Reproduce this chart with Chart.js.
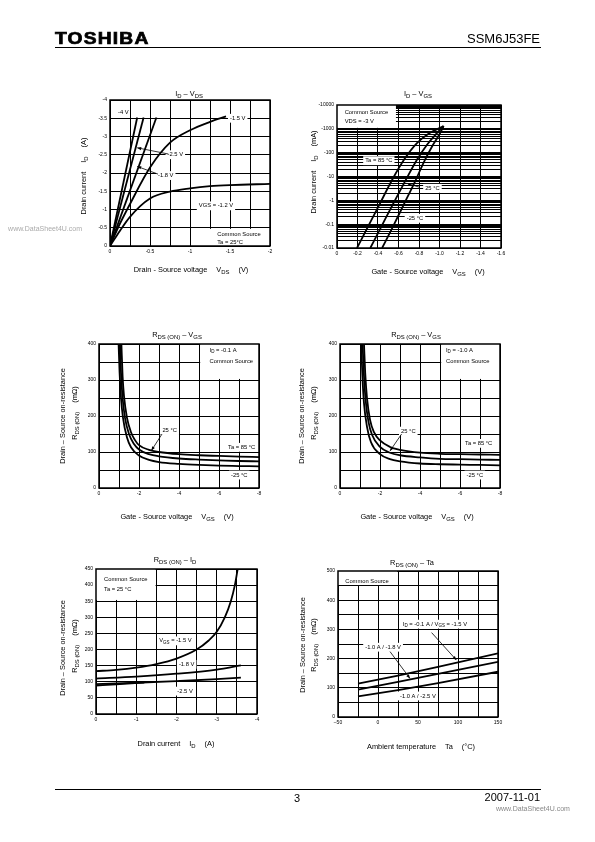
<!DOCTYPE html>
<html>
<head>
<meta charset="utf-8">
<script src="https://cdn.jsdelivr.net/npm/chart.js@4.4.0/dist/chart.umd.min.js"></script>
<style>
  body { margin: 0; background: #fff; }
  #page { position: relative; width: 595px; height: 842px; overflow: hidden; color: #000;
          font-family: Arial, "Liberation Sans", sans-serif; filter: grayscale(1); }
  .t { position: absolute; white-space: nowrap; line-height: 1; transform: translate(-50%, -50%); font-size: 7.4px; }
  .r { transform: translate(-50%, -50%) rotate(-90deg); }
  .s { font-size: 80%; position: relative; top: 0.3em; }
  .g { display: inline-block; width: 9px; }
  canvas { position: absolute; }
</style>
</head>
<body>
<div id="page">
  <!-- header / footer -->
  <div style="position:absolute;left:55px;top:31px;font:bold 16px 'Liberation Sans',Arial;letter-spacing:1px;-webkit-text-stroke:0.7px #000;transform:scaleX(1.2);transform-origin:left top;line-height:1">TOSHIBA</div>
  <div style="position:absolute;right:55px;top:32px;font-size:13px;line-height:1">SSM6J53FE</div>
  <div style="position:absolute;left:55px;top:47px;width:486px;height:1px;background:#000"></div>
  <div style="position:absolute;left:55px;top:789px;width:486px;height:1px;background:#000"></div>
  <div class="t" style="left:297px;top:798px;font-size:11px">3</div>
  <div style="position:absolute;right:55px;top:792px;font-size:11px;line-height:1">2007-11-01</div>
  <div style="position:absolute;left:496px;top:805px;font-size:7px;color:#888;line-height:1">www.DataSheet4U.com</div>
  <div style="position:absolute;right:513px;top:225px;font-size:7px;color:#aaa;line-height:1">www.DataSheet4U.com</div>

  <!-- chart 1 -->
  <div class="t" style="left:189px;top:94px">I<span class="s">D</span> – V<span class="s">DS</span></div>
  <div class="t" style="left:191px;top:270px">Drain - Source voltage<i class="g"></i>V<span class="s">DS</span><i class="g"></i>(V)</div>
  <div class="t r" style="left:84px;top:176px">Drain current<i class="g"></i>I<span class="s">D</span><i class="g"></i>(A)</div>

  <!-- chart 2 -->
  <div class="t" style="left:418px;top:94px">I<span class="s">D</span> – V<span class="s">GS</span></div>
  <div class="t" style="left:428px;top:272px">Gate - Source voltage<i class="g"></i>V<span class="s">GS</span><i class="g"></i>(V)</div>
  <div class="t r" style="left:314px;top:172px">Drain current<i class="g"></i>I<span class="s">D</span><i class="g"></i>(mA)</div>

  <!-- chart 3 -->
  <div class="t" style="left:177px;top:335px">R<span class="s">DS (ON)</span> – V<span class="s">GS</span></div>
  <div class="t" style="left:177px;top:517px">Gate - Source voltage<i class="g"></i>V<span class="s">GS</span><i class="g"></i>(V)</div>
  <div class="t r" style="left:63px;top:416px">Drain – Source on-resistance</div>
  <div class="t r" style="left:75px;top:413px">R<span class="s">DS (ON)</span><i class="g"></i>(mΩ)</div>

  <!-- chart 4 -->
  <div class="t" style="left:416px;top:335px">R<span class="s">DS (ON)</span> – V<span class="s">GS</span></div>
  <div class="t" style="left:417px;top:517px">Gate - Source voltage<i class="g"></i>V<span class="s">GS</span><i class="g"></i>(V)</div>
  <div class="t r" style="left:302px;top:416px">Drain – Source on-resistance</div>
  <div class="t r" style="left:314px;top:413px">R<span class="s">DS (ON)</span><i class="g"></i>(mΩ)</div>

  <!-- chart 5 -->
  <div class="t" style="left:175px;top:560px">R<span class="s">DS (ON)</span> – I<span class="s">D</span></div>
  <div class="t" style="left:176px;top:744px">Drain current<i class="g"></i>I<span class="s">D</span><i class="g"></i>(A)</div>
  <div class="t r" style="left:63px;top:648px">Drain – Source on-resistance</div>
  <div class="t r" style="left:75px;top:646px">R<span class="s">DS (ON)</span><i class="g"></i>(mΩ)</div>

  <!-- chart 6 -->
  <div class="t" style="left:412px;top:563px">R<span class="s">DS (ON)</span> – Ta</div>
  <div class="t" style="left:421px;top:747px">Ambient temperature<i class="g"></i>Ta<i class="g"></i>(°C)</div>
  <div class="t r" style="left:303px;top:645px">Drain – Source on-resistance</div>
  <div class="t r" style="left:314px;top:645px">R<span class="s">DS (ON)</span><i class="g"></i>(mΩ)</div>
</div>

<script>
// ---- I_D - V_DS, Ta = 25 °C (V, A) ----
const vds_4v = [0, -0.34];
const id_4v = [0, -3.52];
const vds_25v = [0, -0.42];
const id_25v = [0, -3.52];
const vds_18v = [0, -0.58];
const id_18v = [0, -3.52];
const vds_15v = [0, -0.1, -0.25, -0.5, -0.75, -1.0, -1.25, -1.45];
const id_15v = [0, -0.5, -1.15, -2.15, -2.83, -3.17, -3.4, -3.55];
const vds_12v = [0, -0.125, -0.25, -0.5, -0.75, -1.0, -1.25, -1.5, -2.0];
const id_12v = [0, -0.42, -0.8, -1.3, -1.49, -1.58, -1.64, -1.67, -1.7];

// ---- I_D - V_GS, VDS = -3 V (V, mA) ----
const vgs_85 = [-0.195, -0.3, -0.42, -0.54, -0.66, -0.78, -0.9, -1.04];
const idg_85 = [-0.01, -0.075, -0.75, -7.5, -55, -250, -650, -1300];
const vgs_25 = [-0.325, -0.43, -0.55, -0.67, -0.78, -0.88, -0.96, -1.04];
const idg_25 = [-0.01, -0.075, -0.75, -7, -50, -220, -560, -1300];
const vgs_m25 = [-0.44, -0.54, -0.65, -0.76, -0.85, -0.93, -0.99, -1.04];
const idg_m25 = [-0.01, -0.07, -0.65, -6, -42, -190, -500, -1300];

// ---- R_DS(ON) - V_GS, ID = -0.1 A (V, mOhm) ----
const a_vgs_85 = [-1.12, -1.18, -1.25, -1.4, -1.6, -1.8, -2, -2.5, -3, -4, -5, -6, -7, -8];
const a_rds_85 = [400, 310, 255, 195, 155, 133, 119, 106, 100, 94, 91, 89, 87, 86];
const a_vgs_25 = [-1.05, -1.1, -1.18, -1.3, -1.5, -1.75, -2, -2.5, -3, -4, -5, -6, -7, -8];
const a_rds_25 = [400, 320, 250, 195, 150, 122, 107, 94, 88, 82, 79, 77, 75, 74];
const a_vgs_m25 = [-0.98, -1.03, -1.1, -1.2, -1.4, -1.6, -2, -2.5, -3, -4, -5, -6, -7, -8];
const a_rds_m25 = [400, 320, 250, 195, 140, 113, 90, 78, 72, 67, 64, 62, 61, 60];

// ---- R_DS(ON) - V_GS, ID = -1.0 A (V, mOhm) ----
const b_vgs_85 = [-1.2, -1.26, -1.35, -1.5, -1.7, -2, -2.5, -3, -4, -5, -6, -7, -8];
const b_rds_85 = [400, 320, 250, 190, 155, 132, 114, 106, 98, 95, 94, 93, 92];
const b_vgs_25 = [-1.13, -1.19, -1.28, -1.42, -1.6, -2, -2.5, -3, -4, -5, -6, -7, -8];
const b_rds_25 = [400, 320, 245, 185, 148, 114, 98, 91, 85, 81, 80, 79, 78];
const b_vgs_m25 = [-1.06, -1.12, -1.2, -1.35, -1.55, -2, -2.5, -3, -4, -5, -6, -7, -8];
const b_rds_m25 = [400, 310, 235, 170, 127, 94, 80, 74, 68, 66, 65, 64, 63];

// ---- R_DS(ON) - I_D, Ta = 25 °C (A, mOhm) ----
const c_id_15v = [0, -0.5, -1, -1.5, -2, -2.5, -2.8, -3, -3.2, -3.35, -3.45, -3.52];
const c_rds_15v = [133, 137, 144, 155, 172, 200, 228, 255, 300, 350, 400, 450];
const c_id_18v = [0, -1, -2, -3, -3.6];
const c_rds_18v = [110, 116, 125, 138, 151];
const c_id_25v = [0, -1, -2, -3, -3.6];
const c_rds_25v = [93, 97, 102, 108, 113];
const c_id_low = [0, -0.5, -1.2];
const c_rds_low = [88, 92, 97.5];

// ---- R_DS(ON) - Ta (°C, mOhm) ----
const ta = [-25, 25, 75, 150];
const d_rds_01a_15v = [114, 142, 172, 218];
const d_rds_1a_18v = [94, 120, 148, 189];
const d_rds_1a_25v = [71, 92, 116, 155];

// tick / grid values for the log axis
const logGrid = [];
for (let e = -2; e < 4; e++) for (let m = 1; m < 10; m++) logGrid.push(+(m * Math.pow(10, e)).toPrecision(2));
logGrid.push(10000);

// ----------------------------------------------------
// helpers
// ----------------------------------------------------
const FONT = 'Arial, "Liberation Sans", sans-serif';
const AX_W = 34, AX_H = 14, PAD_T = 6, PAD_R = 10;
const NOTE_SIZE = 5.8;
const page = document.getElementById('page');

function series(xs, ys, f) { return xs.map((x, i) => ({ x, y: f ? f(ys[i]) : ys[i] })); }

function curve(xs, ys, f, straight) {
  return {
    data: series(xs, ys, f),
    borderColor: '#000', borderWidth: 1.8, pointRadius: 0, fill: false,
    cubicInterpolationMode: straight ? 'default' : 'monotone', tension: 0
  };
}

// label only every labelStep, keep grid at every step
function every(step, fmt) {
  return v => Math.abs(v / step - Math.round(v / step)) < 1e-6 ? fmt(v) : '';
}
const plain = v => (v === 0 ? '0' : String(+v.toFixed(2)));

function axis(o) {
  return {
    type: o.type || 'linear', min: o.min, max: o.max, reverse: !!o.reverse,
    border: { display: false },
    grid: { color: '#000', lineWidth: 1, drawTicks: false },
    ticks: {
      stepSize: o.step, autoSkip: false, maxRotation: 0, padding: 3, color: '#000',
      font: { size: 5, family: FONT }, callback: o.label
    },
    afterFit: s => { if (o.isY) s.width = AX_W; else s.height = AX_H; },
    afterBuildTicks: o.ticks ? (s => { s.ticks = o.ticks.map(v => ({ value: v })); }) : undefined
  };
}

// text with _{sub} parts; returns width, draws if asked
function richText(ctx, str, x, y, size, draw) {
  const segs = str.split(/(_\{[^}]*\})/).filter(p => p).map(p =>
    p.startsWith('_{') ? [p.slice(2, -1), true] : [p, false]);
  let cx = x;
  segs.forEach(([t, sub]) => {
    ctx.font = `${sub ? size * 0.78 : size}px ${FONT}`;
    if (draw) ctx.fillText(t, cx, y + (sub ? size * 0.3 : 0));
    cx += ctx.measureText(t).width;
  });
  return cx - x;
}

function notesPlugin(spec) {
  const px = (chart, p) => [chart.scales.x.getPixelForValue(p[0]), chart.scales.y.getPixelForValue(p[1])];
  return {
    id: 'notes',
    beforeDatasetsDraw(chart) {
      const ctx = chart.ctx;
      ctx.save();
      ctx.fillStyle = '#fff';
      (spec.boxes || []).forEach(b => {
        const [x1, y1] = px(chart, [b[0], b[1]]);
        const [x2, y2] = px(chart, [b[2], b[3]]);
        ctx.fillRect(Math.min(x1, x2), Math.min(y1, y2), Math.abs(x2 - x1), Math.abs(y2 - y1));
      });
      (spec.notes || []).forEach(n => {
        if (!n.bg) return;
        const [x, y] = px(chart, n.at);
        const w = richText(ctx, n.text, x, y, NOTE_SIZE, false);
        ctx.fillRect(x - 2, y - NOTE_SIZE / 2 - 1.5, w + 4, NOTE_SIZE + 3);
      });
      ctx.restore();
    },
    afterDatasetsDraw(chart) {
      const ctx = chart.ctx, a = chart.chartArea;
      ctx.save();
      ctx.fillStyle = '#000';
      ctx.strokeStyle = '#000';
      ctx.textBaseline = 'middle';
      (spec.notes || []).forEach(n => {
        const [x, y] = px(chart, n.at);
        richText(ctx, n.text, x, y, NOTE_SIZE, true);
      });
      (spec.arrows || []).forEach(ar => {
        const [x1, y1] = px(chart, ar[0]);
        const [x2, y2] = px(chart, ar[1]);
        const ang = Math.atan2(y2 - y1, x2 - x1);
        ctx.lineWidth = 0.8;
        ctx.beginPath(); ctx.moveTo(x1, y1); ctx.lineTo(x2, y2); ctx.stroke();
        ctx.beginPath();
        ctx.moveTo(x2, y2);
        ctx.lineTo(x2 - 4 * Math.cos(ang) + 1.6 * Math.sin(ang), y2 - 4 * Math.sin(ang) - 1.6 * Math.cos(ang));
        ctx.lineTo(x2 - 4 * Math.cos(ang) - 1.6 * Math.sin(ang), y2 - 4 * Math.sin(ang) + 1.6 * Math.cos(ang));
        ctx.closePath(); ctx.fill();
      });
      ctx.lineWidth = 1.5;
      ctx.strokeRect(a.left, a.top, a.right - a.left, a.bottom - a.top);
      ctx.restore();
    }
  };
}

function makeChart(frame, xAx, yAx, datasets, spec) {
  const c = document.createElement('canvas');
  const w = frame.R - frame.L + AX_W + PAD_R, h = frame.B - frame.T + PAD_T + AX_H;
  c.width = w; c.height = h;
  c.style.left = (frame.L - AX_W) + 'px';
  c.style.top = (frame.T - PAD_T) + 'px';
  c.style.width = w + 'px'; c.style.height = h + 'px';
  page.appendChild(c);
  return new Chart(c, {
    type: 'line',
    data: { datasets },
    options: {
      responsive: false, animation: false, devicePixelRatio: 1,
      layout: { padding: { top: PAD_T, right: PAD_R, left: 0, bottom: 0 } },
      plugins: { legend: { display: false }, tooltip: { enabled: false } },
      scales: { x: xAx, y: yAx }
    },
    plugins: [notesPlugin(spec)]
  });
}

// ----------------------------------------------------
// charts
// ----------------------------------------------------

// 1. I_D - V_DS
makeChart({ L: 110, T: 100, R: 270, B: 246 },
  axis({ min: -2, max: 0, reverse: true, step: 0.25, label: every(0.5, plain) }),
  axis({ min: -4, max: 0, reverse: true, step: 0.5, label: plain, isY: true }),
  [curve(vds_4v, id_4v, null, true), curve(vds_25v, id_25v, null, true), curve(vds_18v, id_18v, null, true),
   curve(vds_15v, id_15v), curve(vds_12v, id_12v)],
  {
    boxes: [[-1.2, -0.47, -2, 0]],
    notes: [
      { at: [-0.1, -3.65], text: '-4 V' },
      { at: [-1.5, -3.5], text: '-1.5 V', bg: true },
      { at: [-0.72, -2.5], text: '-2.5 V', bg: true },
      { at: [-0.6, -1.93], text: '-1.8 V', bg: true },
      { at: [-1.11, -1.1], text: 'VGS = -1.2 V', bg: true },
      { at: [-1.34, -0.31], text: 'Common Source' },
      { at: [-1.34, -0.1], text: 'Ta = 25°C' }
    ],
    arrows: [[[-0.73, -2.52], [-0.34, -2.69]], [[-0.6, -1.97], [-0.34, -2.18]]]
  });

// 2. I_D - V_GS (log axis uses magnitudes, labelled with minus sign)
const mag = v => Math.abs(v);
makeChart({ L: 337, T: 105, R: 501, B: 248 },
  axis({ min: -1.6, max: 0, reverse: true, step: 0.2, label: v => (v === 0 ? '0' : v.toFixed(1)) }),
  axis({ type: 'logarithmic', min: 0.01, max: 10000, isY: true, ticks: logGrid,
    label: v => {
      const l = Math.log10(v), p = Math.round(l);
      if (Math.abs(l - p) > 1e-6) return '';
      return '-' + (p < 0 ? Math.pow(10, p).toFixed(-p) : String(Math.pow(10, p)));
    } }),
  [curve(vgs_85, idg_85, mag), curve(vgs_25, idg_25, mag), curve(vgs_m25, idg_m25, mag)],
  {
    boxes: [[0, 1100, -0.575, 10000]],
    notes: [
      { at: [-0.075, 5100], text: 'Common Source' },
      { at: [-0.075, 2100], text: 'VDS = -3 V' },
      { at: [-0.275, 46], text: 'Ta = 85 °C', bg: true },
      { at: [-0.86, 3.2], text: '25 °C', bg: true },
      { at: [-0.68, 0.176], text: '-25 °C', bg: true }
    ],
    arrows: [[[-0.8, 3.6], [-0.68, 5.2]]]
  });

// 3. R_DS(ON) - V_GS, ID = -0.1 A
makeChart({ L: 99, T: 344, R: 259, B: 488 },
  axis({ min: -8, max: 0, reverse: true, step: 1, label: every(2, plain) }),
  axis({ min: 0, max: 400, step: 50, label: every(100, plain), isY: true }),
  [curve(a_vgs_85, a_rds_85), curve(a_vgs_25, a_rds_25), curve(a_vgs_m25, a_rds_m25)],
  {
    boxes: [[-5.06, 303, -8, 400]],
    notes: [
      { at: [-5.53, 383], text: 'I_{D} = -0.1 A' },
      { at: [-5.53, 351], text: 'Common Source' },
      { at: [-3.17, 159], text: '25 °C', bg: true },
      { at: [-6.45, 113], text: 'Ta = 85 °C', bg: true },
      { at: [-6.6, 36], text: '-25 °C', bg: true }
    ],
    arrows: [[[-3.15, 150], [-2.62, 104]]]
  });

// 4. R_DS(ON) - V_GS, ID = -1.0 A
makeChart({ L: 340, T: 344, R: 500, B: 488 },
  axis({ min: -8, max: 0, reverse: true, step: 1, label: every(2, plain) }),
  axis({ min: 0, max: 400, step: 50, label: every(100, plain), isY: true }),
  [curve(b_vgs_85, b_rds_85), curve(b_vgs_25, b_rds_25), curve(b_vgs_m25, b_rds_m25)],
  {
    boxes: [[-5.06, 303, -8, 400]],
    notes: [
      { at: [-5.3, 383], text: 'I_{D} = -1.0 A' },
      { at: [-5.3, 351], text: 'Common Source' },
      { at: [-3.05, 158], text: '25 °C', bg: true },
      { at: [-6.25, 124], text: 'Ta = 85 °C', bg: true },
      { at: [-6.33, 36], text: '-25 °C', bg: true }
    ],
    arrows: [[[-3.08, 150], [-2.5, 103]]]
  });

// 5. R_DS(ON) - I_D
makeChart({ L: 96, T: 569, R: 257, B: 714 },
  axis({ min: -4, max: 0, reverse: true, step: 0.5, label: every(1, plain) }),
  axis({ min: 0, max: 450, step: 50, label: plain, isY: true }),
  [curve(c_id_15v, c_rds_15v), curve(c_id_18v, c_rds_18v), curve(c_id_25v, c_rds_25v), curve(c_id_low, c_rds_low)],
  {
    boxes: [[0, 354, -1.48, 450]],
    notes: [
      { at: [-0.2, 419], text: 'Common Source' },
      { at: [-0.2, 388], text: 'Ta = 25 °C' },
      { at: [-1.57, 227], text: 'V_{GS} = -1.5 V', bg: true },
      { at: [-2.06, 154], text: '-1.8 V', bg: true },
      { at: [-2.02, 71], text: '-2.5 V', bg: true }
    ]
  });

// 6. R_DS(ON) - Ta
makeChart({ L: 338, T: 571, R: 498, B: 717 },
  axis({ min: -50, max: 150, step: 25, label: every(50, v => (v < 0 ? '\u2013' + Math.abs(v) : String(v))) }),
  axis({ min: 0, max: 500, step: 50, label: every(100, plain), isY: true }),
  [curve(ta, d_rds_01a_15v, null, true), curve(ta, d_rds_1a_18v, null, true), curve(ta, d_rds_1a_25v, null, true)],
  {
    boxes: [[-50, 452, 24, 500]],
    notes: [
      { at: [-41, 466], text: 'Common Source' },
      { at: [31, 318], text: 'I_{D} = -0.1 A / V_{GS} = -1.5 V', bg: true },
      { at: [-16, 239], text: '-1.0 A / -1.8 V', bg: true },
      { at: [27.5, 72], text: '-1.0 A / -2.5 V', bg: true }
    ],
    arrows: [[[67, 289], [98, 195]], [[15, 224], [40, 132]]]
  });
</script>
</body>
</html>
